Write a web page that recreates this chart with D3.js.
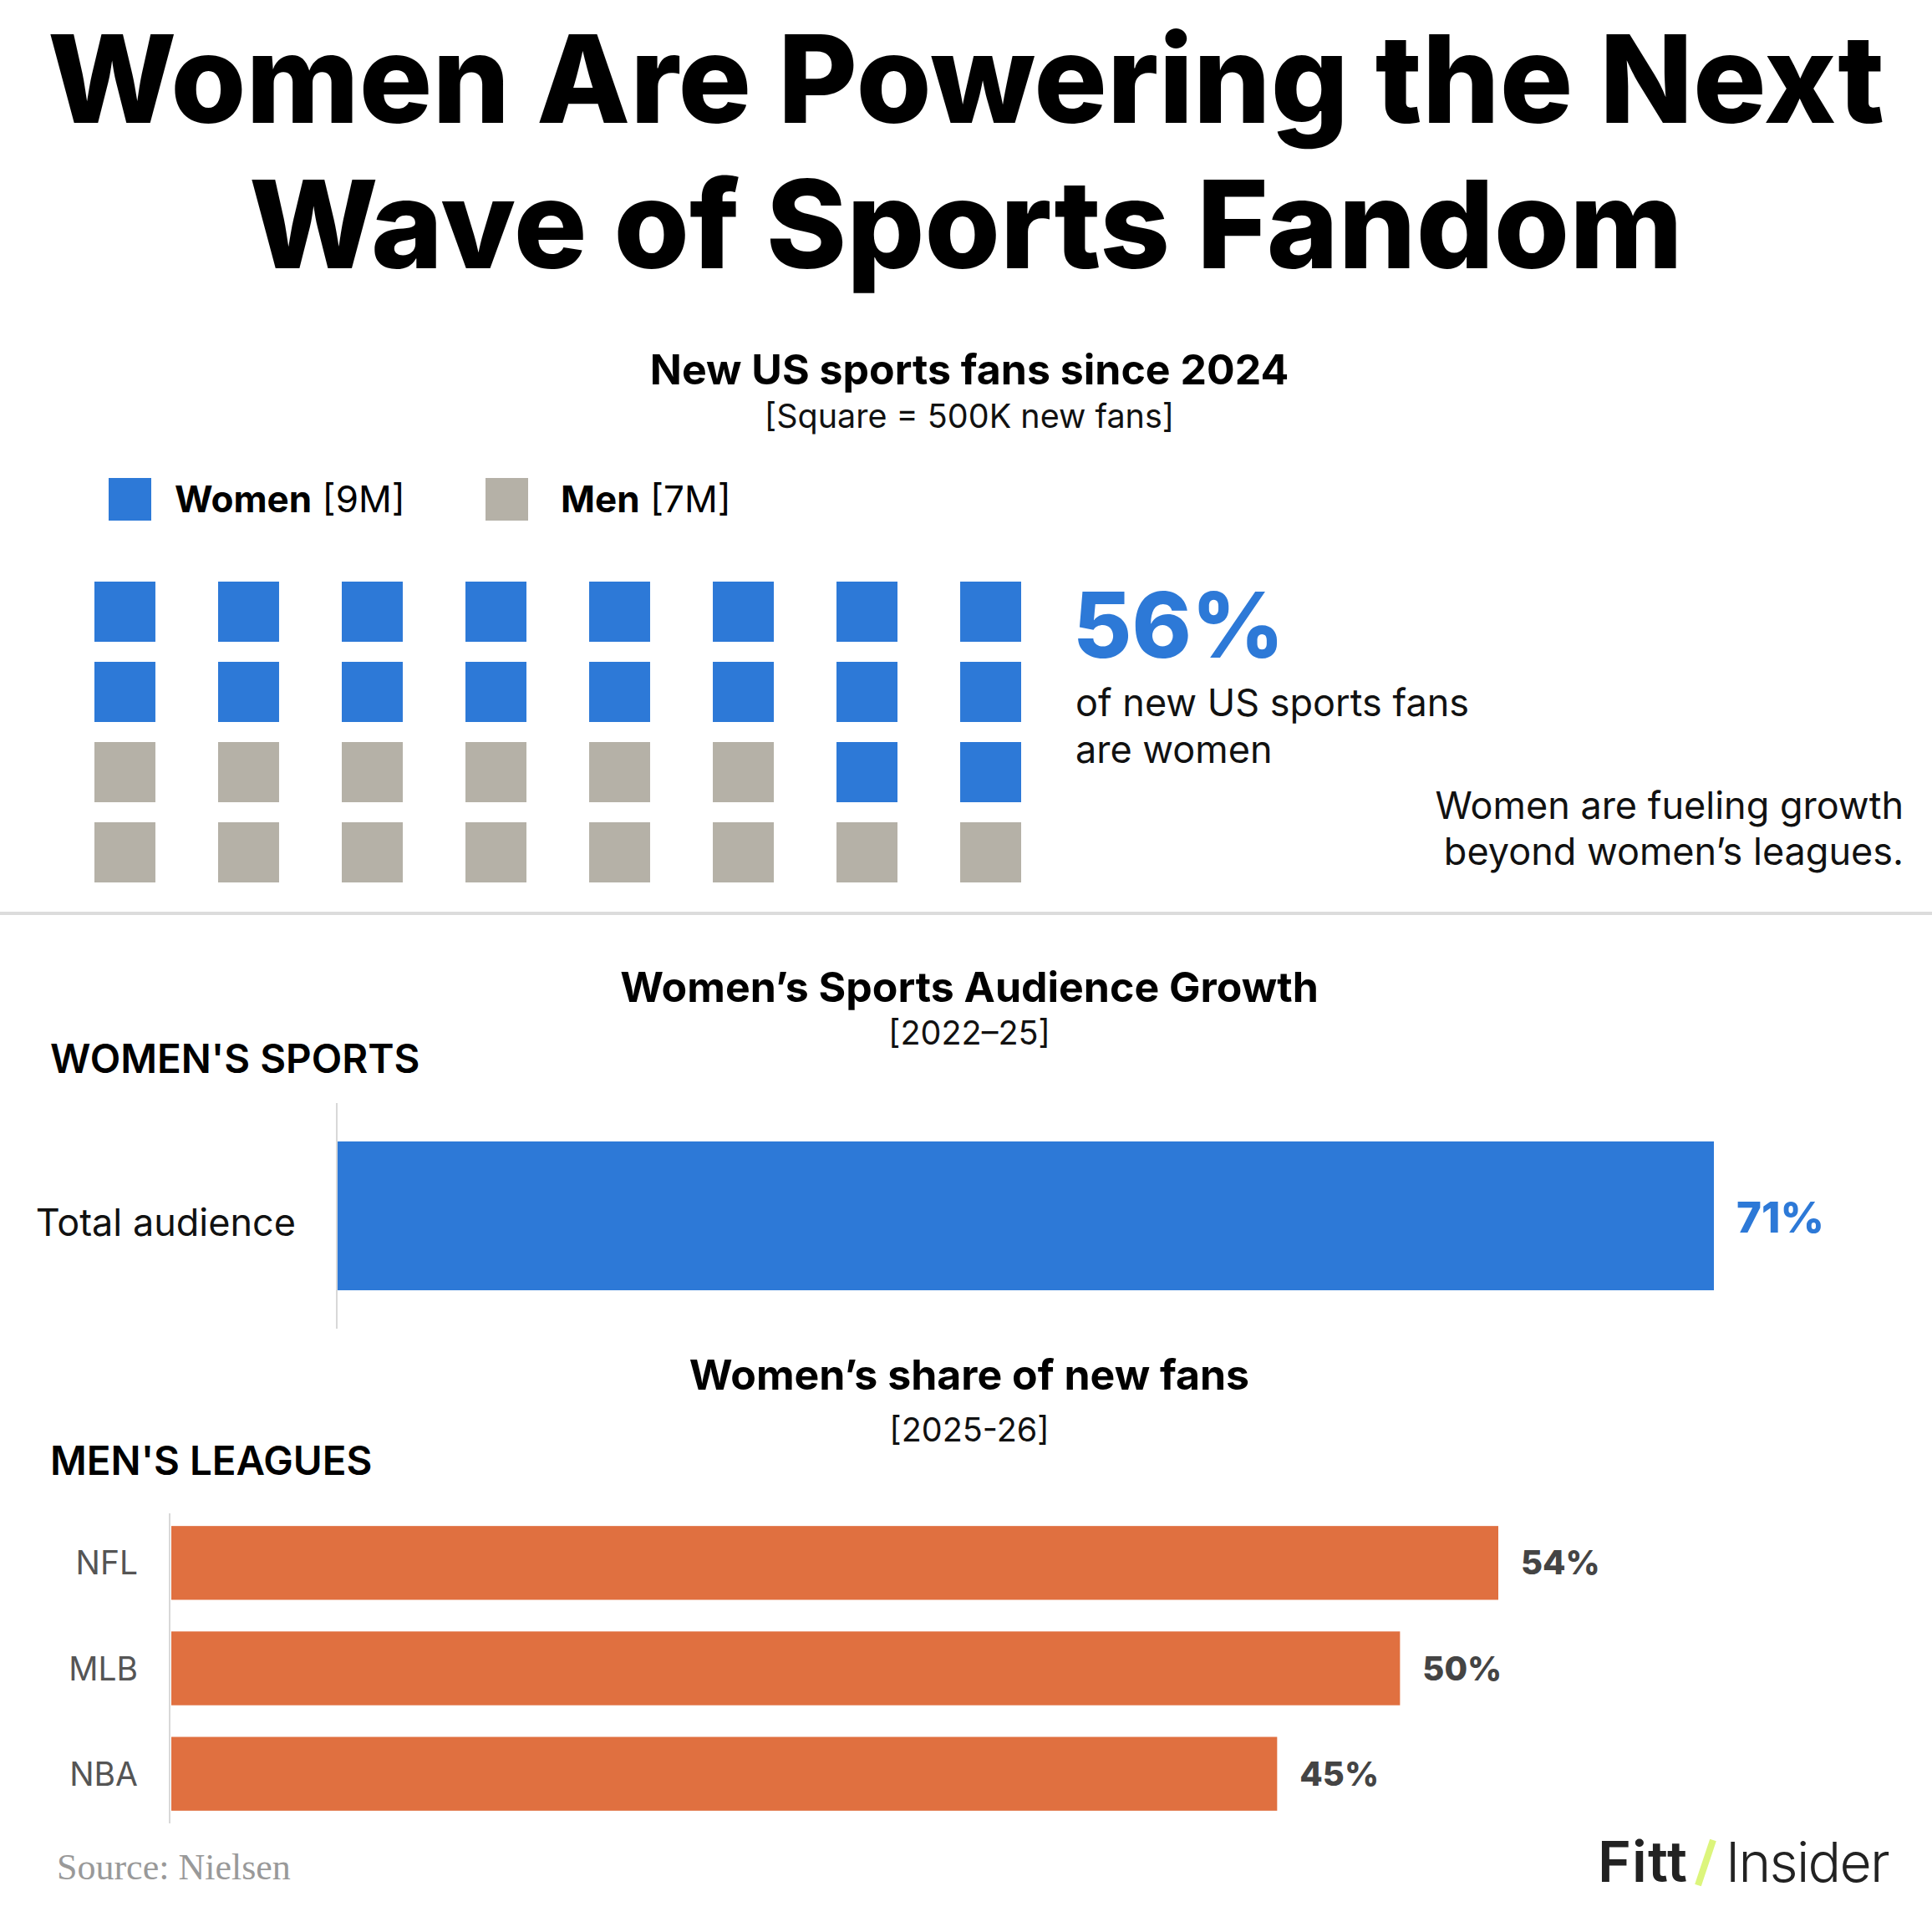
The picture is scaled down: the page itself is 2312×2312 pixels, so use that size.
<!DOCTYPE html>
<html>
<head>
<meta charset="utf-8">
<script src="https://cdn.jsdelivr.net/npm/d3@7"></script>
<style>
  html, body { margin: 0; padding: 0; background: #fff; }
  svg { display: block; font-family: Inter, "Noto Sans", sans-serif; }
</style>
</head>
<body>
<svg id="chart" width="2312" height="2312"></svg>
<script>
// ─── Data ─────────────────────────────────────────────────────────────────────
const titleLines      = ["Women Are Powering the Next", "Wave of Sports Fandom"];
const fanGroups       = ["Women", "Men"];
const fanMillions     = [9, 7];
const squareMillions  = 0.5;          // one square = 500K fans
const womenSharePct   = 56;
const audienceLabels  = ["Total audience"];
const audienceGrowth  = [71];
const leagues         = ["NFL", "MLB", "NBA"];
const leagueShares    = [54, 50, 45];

const BLUE   = "#2d79d7";
const GRAY   = "#b5b1a7";
const ORANGE = "#e07040";

const W = 2312;
const svg = d3.select("#chart");

// shrink/grow font so a line fills a given width
function fitWidth(sel, target) {
    const size = parseFloat(sel.attr("font-size"));
    const len = sel.node().getComputedTextLength();
    sel.attr("font-size", size * target / len);
}

// keep font size, stretch letter spacing to a given width
function fitSpacing(sel, target) {
    const len = sel.node().getComputedTextLength();
    const n = sel.text().length;
    sel.attr("letter-spacing", (target - len) / n);
}

// ─── Title ────────────────────────────────────────────────────────────────────
const titleWidths = [2198, 1716];
titleLines.forEach((t, i) => {
    const txt = svg.append("text")
        .attr("x", W / 2).attr("y", 147 + i * 174)
        .attr("text-anchor", "middle")
        .attr("font-size", 130).attr("font-weight", 800)
        .attr("fill", "#000")
        .text(t);
    fitWidth(txt, titleWidths[i]);
});

function sectionHeading(y, title, sub, subGap) {
    svg.append("text")
        .attr("x", 1160).attr("y", y)
        .attr("text-anchor", "middle")
        .attr("font-size", 50).attr("font-weight", 700)
        .text(title);
    svg.append("text")
        .attr("x", 1160).attr("y", y + subGap)
        .attr("text-anchor", "middle")
        .attr("font-size", 39.5).attr("fill", "#111")
        .text(sub);
}

// ─── Waffle ───────────────────────────────────────────────────────────────────
sectionHeading(460, "New US sports fans since 2024", "[Square = 500K new fans]", 52);

// legend
const legendX = [130, 581];
const legendTextX = [209, 671];
fanGroups.forEach((g, i) => {
    svg.append("rect")
        .attr("x", legendX[i]).attr("y", 572)
        .attr("width", 51).attr("height", 51)
        .attr("fill", i === 0 ? BLUE : GRAY);
    const t = svg.append("text")
        .attr("x", legendTextX[i]).attr("y", 613)
        .attr("font-size", 44);
    t.append("tspan").attr("font-weight", 700).text(g);
    t.append("tspan").attr("font-weight", 400).text(" [" + fanMillions[i] + "M]");
});

// squares: filled from the bottom row upward, men first
const nCols = 8, nRows = 4;
const cells = [];
const menSquares = fanMillions[1] / squareMillions;
for (let i = 0; i < nCols * nRows; i++) {
    cells.push({
        col: i % nCols,
        row: nRows - 1 - Math.floor(i / nCols),
        group: i < menSquares ? "Men" : "Women"
    });
}
const xCol = d3.scaleBand().domain(d3.range(nCols)).range([113, 1222]).paddingInner(0.507);
const yRow = d3.scaleBand().domain(d3.range(nRows)).range([696, 1056]).paddingInner(0.25);
const colorGroup = d3.scaleOrdinal().domain(fanGroups).range([BLUE, GRAY]);

svg.append("g").selectAll("rect")
    .data(cells)
    .join("rect")
    .attr("x", d => xCol(d.col))
    .attr("y", d => yRow(d.row))
    .attr("width", xCol.bandwidth())
    .attr("height", yRow.bandwidth())
    .attr("fill", d => colorGroup(d.group));

// callout
svg.append("text")
    .attr("x", 1284).attr("y", 787)
    .attr("font-size", 108).attr("font-weight", 800)
    .attr("fill", BLUE)
    .text(womenSharePct + "%");
["of new US sports fans", "are women"].forEach((t, i) => {
    svg.append("text")
        .attr("x", 1287).attr("y", 857 + i * 56)
        .attr("font-size", 45).attr("fill", "#111")
        .text(t);
});
["Women are fueling growth", "beyond women\u2019s leagues."].forEach((t, i) => {
    svg.append("text")
        .attr("x", 2278).attr("y", 980 + i * 55)
        .attr("text-anchor", "end")
        .attr("font-size", 45).attr("fill", "#111")
        .text(t);
});

// divider
svg.append("line")
    .attr("x1", 0).attr("x2", W)
    .attr("y1", 1093).attr("y2", 1093)
    .attr("stroke", "#dcdcdc").attr("stroke-width", 4);

// ─── Women's sports audience growth ──────────────────────────────────────────
sectionHeading(1199, "Women\u2019s Sports Audience Growth", "[2022\u201325]", 51);

svg.append("text")
    .attr("x", 60).attr("y", 1284)
    .attr("font-size", 47.5).attr("font-weight", 600)
    .text("WOMEN'S SPORTS");

const xAud = d3.scaleLinear().domain([0, 71]).range([404, 2051]);
const yAud = d3.scaleBand().domain(audienceLabels).range([1320, 1590]).paddingInner(0).paddingOuter(0.258);

svg.append("line")
    .attr("x1", 403).attr("x2", 403)
    .attr("y1", 1320).attr("y2", 1590)
    .attr("stroke", "#d8d8d8").attr("stroke-width", 2);

const audG = svg.append("g");
audG.selectAll("rect")
    .data(audienceLabels)
    .join("rect")
    .attr("x", xAud(0))
    .attr("y", d => yAud(d))
    .attr("width", (d, i) => xAud(audienceGrowth[i]) - xAud(0))
    .attr("height", yAud.bandwidth())
    .attr("fill", BLUE);
audG.selectAll("text.lab")
    .data(audienceLabels)
    .join("text")
    .attr("class", "lab")
    .attr("x", 354)
    .attr("y", d => yAud(d) + yAud.bandwidth() / 2 + 24)
    .attr("text-anchor", "end")
    .attr("font-size", 45).attr("fill", "#111")
    .text(d => d);
audG.selectAll("text.val")
    .data(audienceLabels)
    .join("text")
    .attr("class", "val")
    .attr("x", (d, i) => xAud(audienceGrowth[i]) + 27)
    .attr("y", d => yAud(d) + yAud.bandwidth() / 2 + 20)
    .attr("font-size", 51).attr("font-weight", 800)
    .attr("fill", BLUE)
    .text((d, i) => audienceGrowth[i] + "%");

// ─── Men's leagues ────────────────────────────────────────────────────────────
sectionHeading(1663, "Women\u2019s share of new fans", "[2025-26]", 62);

svg.append("text")
    .attr("x", 60).attr("y", 1765)
    .attr("font-size", 47.5).attr("font-weight", 600)
    .text("MEN'S LEAGUES");

const xLg = d3.scaleLinear().domain([0, 54]).range([205, 1793]);
const yLg = d3.scaleBand().domain(leagues).range([1811, 2182]).paddingInner(0.3).paddingOuter(0.12);

svg.append("line")
    .attr("x1", 203).attr("x2", 203)
    .attr("y1", 1811).attr("y2", 2182)
    .attr("stroke", "#d8d8d8").attr("stroke-width", 2);

const lgG = svg.append("g");
lgG.selectAll("rect")
    .data(leagues)
    .join("rect")
    .attr("x", xLg(0))
    .attr("y", d => yLg(d))
    .attr("width", (d, i) => xLg(leagueShares[i]) - xLg(0))
    .attr("height", yLg.bandwidth())
    .attr("fill", ORANGE);
lgG.selectAll("text.lab")
    .data(leagues)
    .join("text")
    .attr("class", "lab")
    .attr("x", 165)
    .attr("y", d => yLg(d) + yLg.bandwidth() / 2 + 14)
    .attr("text-anchor", "end")
    .attr("font-size", 39).attr("fill", "#555")
    .text(d => d);
lgG.selectAll("text.val")
    .data(leagues)
    .join("text")
    .attr("class", "val")
    .attr("x", (d, i) => xLg(leagueShares[i]) + 27)
    .attr("y", d => yLg(d) + yLg.bandwidth() / 2 + 14)
    .attr("font-size", 40).attr("font-weight", 800)
    .attr("fill", "#444")
    .text((d, i) => leagueShares[i] + "%");

// ─── Footer ───────────────────────────────────────────────────────────────────
svg.append("text")
    .attr("x", 68).attr("y", 2249)
    .attr("font-family", "'Liberation Serif', 'DejaVu Serif', serif")
    .attr("font-size", 44).attr("fill", "#999")
    .text("Source: Nielsen");

// logo: Fitt / Insider
const fitt = svg.append("text")
    .attr("x", 1912).attr("y", 2252)
    .attr("font-size", 68).attr("font-weight", 600)
    .attr("fill", "#222")
    .text("Fitt");
fitSpacing(fitt, 108);
svg.append("line")
    .attr("x1", 2032).attr("y1", 2256)
    .attr("x2", 2050).attr("y2", 2202)
    .attr("stroke", "#dcf57c").attr("stroke-width", 8);
const insider = svg.append("text")
    .attr("x", 2065).attr("y", 2252)
    .attr("font-size", 66).attr("font-weight", 300)
    .attr("fill", "#222")
    .text("Insider");
fitSpacing(insider, 195);
</script>
</body>
</html>
